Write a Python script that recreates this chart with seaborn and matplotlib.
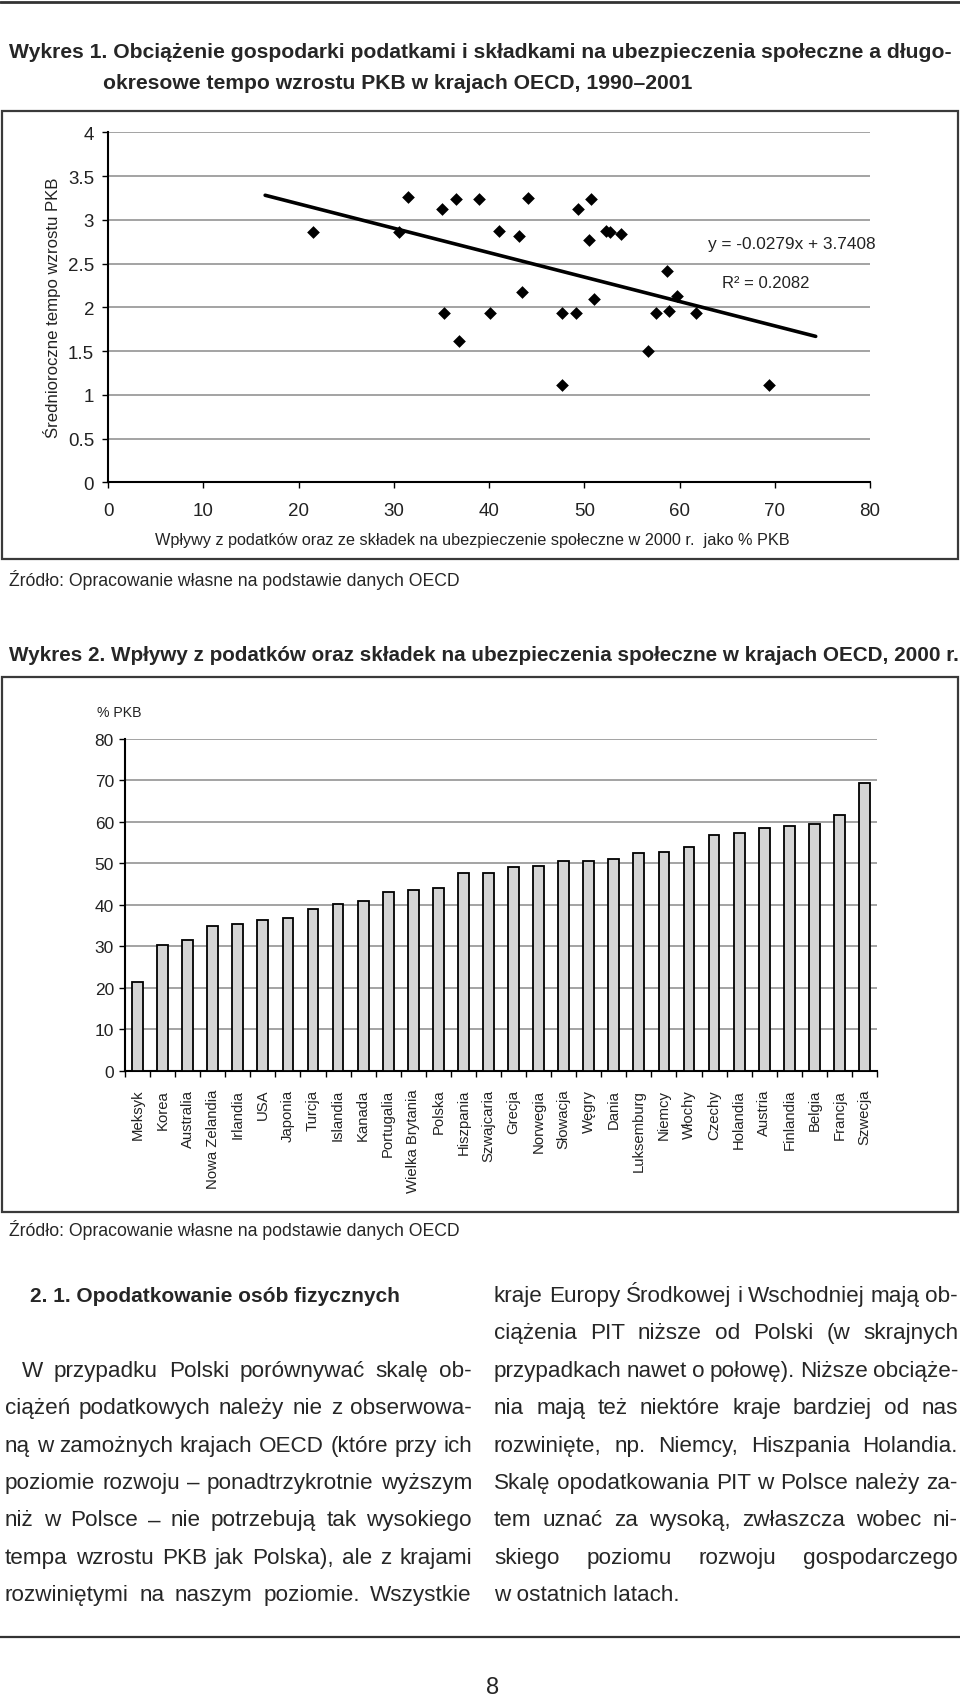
import matplotlib
matplotlib.use("Agg")
import matplotlib.pyplot as plt
import seaborn as sns
import numpy as np
from matplotlib import font_manager
from matplotlib.patches import Rectangle
from matplotlib.lines import Line2D

# Wykres 1: udział podatków w PKB (x) i tempo wzrostu PKB (y)
tax_share = [21.5, 30.5, 31.5, 35.1, 36.5, 39.0, 41.0, 35.3, 36.9, 40.1,
             44.1, 43.2, 43.5, 49.3, 50.7, 50.5, 52.3, 52.7, 53.9, 47.7,
             49.1, 51.0, 47.7, 58.7, 59.7, 57.5, 58.9, 61.7, 56.7, 69.4]
gdp_growth = [2.86, 2.86, 3.26, 3.12, 3.24, 3.24, 2.87, 1.94, 1.62, 1.94,
              3.25, 2.82, 2.18, 3.12, 3.24, 2.77, 2.87, 2.86, 2.84, 1.94,
              1.94, 2.10, 1.11, 2.41, 2.13, 1.94, 1.96, 1.94, 1.50, 1.11]
trend_slope = -0.0279
trend_intercept = 3.7408
trend_x = [16.5, 74.3]

# Wykres 2: wpływy z podatków i składek, % PKB, 2000 r.
countries = ["Meksyk", "Korea", "Australia", "Nowa Zelandia", "Irlandia", "USA",
             "Japonia", "Turcja", "Islandia", "Kanada", "Portugalia",
             "Wielka Brytania", "Polska", "Hiszpania", "Szwajcaria", "Grecja",
             "Norwegia", "Słowacja", "Węgry", "Dania", "Luksemburg", "Niemcy",
             "Włochy", "Czechy", "Holandia", "Austria", "Finlandia", "Belgia",
             "Francja", "Szwecja"]
revenue = [21.5, 30.4, 31.5, 35.0, 35.3, 36.4, 36.9, 39.0, 40.1, 40.9, 43.2,
           43.5, 44.1, 47.6, 47.7, 49.2, 49.3, 50.5, 50.6, 51.0, 52.4, 52.7,
           53.9, 56.8, 57.4, 58.6, 58.9, 59.6, 61.7, 69.3]

left_col = ["W przypadku Polski porównywać skalę ob-",
            "ciążeń podatkowych należy nie z obserwowa-",
            "ną w zamożnych krajach OECD (które przy ich",
            "poziomie rozwoju – ponadtrzykrotnie wyższym",
            "niż w Polsce – nie potrzebują tak wysokiego",
            "tempa wzrostu PKB jak Polska), ale z krajami",
            "rozwiniętymi na naszym poziomie. Wszystkie"]
right_col = ["kraje Europy Środkowej i Wschodniej mają ob-",
             "ciążenia PIT niższe od Polski (w skrajnych",
             "przypadkach nawet o połowę). Niższe obciąże-",
             "nia   mają też niektóre kraje bardziej od nas",
             "rozwinięte, np. Niemcy, Hiszpania Holandia.",
             "Skalę opodatkowania PIT w Polsce należy za-",
             "tem uznać za wysoką, zwłaszcza wobec ni-",
             "skiego poziomu rozwoju gospodarczego",
             "w ostatnich latach."]

sns.set_style("ticks")
names = {f.name for f in font_manager.fontManager.ttflist}
narrow = "Liberation Sans Narrow" if "Liberation Sans Narrow" in names else "Liberation Sans"
plt.rcParams['font.family'] = [narrow, 'DejaVu Sans']

W, H, DPI = 960, 1699, 100
fig = plt.figure(figsize=(W / DPI, H / DPI), dpi=DPI)
fig.patch.set_facecolor('white')
rend = fig.canvas.get_renderer()


def put(x, y, s, size, width=None, height=None, **kw):
    t = fig.text(x / W, 1 - y / H, s, fontsize=size, **kw)
    if width is not None:
        t.set_fontsize(size * width / t.get_window_extent(rend).width)
    if height is not None:
        t.set_fontsize(size * height / t.get_window_extent(rend).height)
    return t


def justify(s, x0, x1, y, size, **kw):
    words = s.split()
    ts = [fig.text(0, 1 - y / H, w, fontsize=size, va='baseline', **kw) for w in words]
    ws = [t.get_window_extent(rend).width for t in ts]
    gap = (x1 - x0 - sum(ws)) / (len(words) - 1)
    x = x0
    for t, w in zip(ts, ws):
        t.set_x(x / W)
        x += w + gap


def box(l, t, r, b):
    fig.add_artist(Rectangle((l / W, 1 - b / H), (r - l) / W, (b - t) / H,
                             transform=fig.transFigure, fill=False,
                             edgecolor='#3a3a3a', linewidth=1.6))


def hrule(y, lw):
    fig.add_artist(Line2D([0, 1], [1 - y / H] * 2, transform=fig.transFigure,
                          color='#333333', linewidth=lw))


hrule(3, 2.0)
hrule(1638, 1.6)

# titles
t1 = put(9, 58, "Wykres 1. Obciążenie gospodarki podatkami i składkami na ubezpieczenia społeczne a długo-",
         15, width=949, fontweight='bold', va='baseline')
title_size = t1.get_fontsize()
put(103, 89, "okresowe tempo wzrostu PKB w krajach OECD, 1990–2001", title_size,
    fontweight='bold', va='baseline')
put(9, 661, "Wykres 2. Wpływy z podatków oraz składek na ubezpieczenia społeczne w krajach OECD, 2000 r.",
    title_size, width=944, fontweight='bold', va='baseline')

box(2, 112, 958, 560)
box(2, 678, 958, 1213)

grid_kw = dict(color='#8a8a8a', linewidth=1.1)

# ---- Wykres 1: scatter ----
ax1 = fig.add_axes([108 / W, 1 - 483.3 / H, (870 - 108) / W, 350 / H])
sns.scatterplot(x=tax_share, y=gdp_growth, marker='D', color='black', s=42,
                linewidth=0, ax=ax1, zorder=3)
sns.lineplot(x=trend_x, y=[trend_intercept + trend_slope * v for v in trend_x],
             color='black', linewidth=2.6, ax=ax1, zorder=2)
ax1.set_xlim(0, 80)
ax1.set_ylim(0, 4)
yt = np.arange(0, 4.01, 0.5)
ax1.set_yticks(yt)
ax1.set_yticklabels([f"{v:g}" for v in yt])
ax1.set_xticks(range(0, 81, 10))
ax1.yaxis.grid(True, **grid_kw)
for s in ['top', 'right']:
    ax1.spines[s].set_visible(False)
for s in ['left', 'bottom']:
    ax1.spines[s].set_linewidth(1.5)
    ax1.spines[s].set_color('black')
ax1.tick_params(axis='both', length=4, width=1, color='black', labelsize=13.5,
                labelcolor='#222222')
ax1.tick_params(axis='x', pad=10)
ax1.tick_params(axis='y', pad=6)
ax1.set_xlabel("")
ax1.set_ylabel("")
put(52, 308, "Średnioroczne tempo wzrostu PKB", 13, height=260, rotation=90,
    ha='center', va='center', color='#222222')
put(472, 540, "Wpływy z podatków oraz ze składek na ubezpieczenie społeczne w 2000 r.  jako % PKB",
    13, width=631, ha='center', va='center', color='#222222')
put(708, 244, "y = -0.0279x + 3.7408", 13, width=167, va='center', color='#222222')
put(722, 284, "R² = 0.2082", 13, width=87, va='center', color='#222222')

src = put(9, 586, "Źródło: Opracowanie własne na podstawie danych OECD", 12, width=451,
          va='baseline')
put(9, 1236, "Źródło: Opracowanie własne na podstawie danych OECD", src.get_fontsize(),
    va='baseline')

# ---- Wykres 2: bars ----
ax2 = fig.add_axes([125 / W, 1 - 1071.7 / H, (877 - 125) / W, (1071.7 - 740) / H])
sns.barplot(x=countries, y=revenue, color='#d4d4d4', saturation=1, width=0.43,
            edgecolor='black', linewidth=1.3, ax=ax2, zorder=3)
ax2.set_xlim(-0.5, len(countries) - 0.5)
ax2.set_ylim(0, 80)
ax2.set_yticks(range(0, 81, 10))
ax2.yaxis.grid(True, **grid_kw)
ax2.set_axisbelow(True)
for s in ['top', 'right']:
    ax2.spines[s].set_visible(False)
for s in ['left', 'bottom']:
    ax2.spines[s].set_linewidth(1.5)
    ax2.spines[s].set_color('black')
ax2.set_xticks(np.arange(-0.5, len(countries), 1), minor=True)
ax2.tick_params(axis='x', which='major', length=0, pad=13, rotation=90)
ax2.tick_params(axis='x', which='minor', length=4, width=1, color='black')
ax2.tick_params(axis='y', length=4, width=1, color='black', labelsize=12.5, pad=4,
                labelcolor='#222222')
probe = put(0, 0, "Wielka Brytania", 11, width=103)
lab_size = probe.get_fontsize()
probe.remove()
for lbl in ax2.get_xticklabels():
    lbl.set_fontsize(lab_size)
    lbl.set_color('#222222')
    lbl.set_va('top')
ax2.set_xlabel("")
ax2.set_ylabel("")
put(97, 713, "% PKB", 12, width=45, va='center', color='#222222')

# ---- tekst ----
body = put(494, 0, "w ostatnich latach.", 14, width=186, va='baseline')
body_size = body.get_fontsize()
body.remove()
line_h = 37.4
base0 = 1302
put(30, base0, "2. 1. Opodatkowanie osób fizycznych", body_size, width=369,
    fontweight='bold', va='baseline')
for i, line in enumerate(left_col):
    x0 = 22 if i == 0 else 5
    justify(line, x0, 472, base0 + (i + 2) * line_h, body_size)
for i, line in enumerate(right_col):
    y = base0 + i * line_h
    if i == len(right_col) - 1:
        put(494, y, line, body_size, va='baseline')
    else:
        justify(line, 494, 958, y, body_size)

put(493, 1688, "8", 17, ha='center', va='center')

fig.savefig("out.png", dpi=DPI, facecolor='white')
